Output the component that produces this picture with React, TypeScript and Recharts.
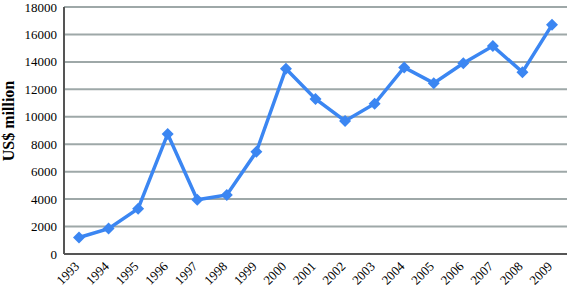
import React from 'react';
import { LineChart, Line, XAxis, YAxis, CartesianGrid } from 'recharts';

const years = ['1993','1994','1995','1996','1997','1998','1999','2000','2001','2002','2003','2004','2005','2006','2007','2008','2009'];
const values = [1200, 1850, 3300, 8750, 3950, 4300, 7450, 13500, 11300, 9700, 10950, 13600, 12450, 13900, 15150, 13250, 16700];
const yTicks = [0, 2000, 4000, 6000, 8000, 10000, 12000, 14000, 16000, 18000];

const data = years.map((y, i) => ({ year: y, value: values[i] }));

const COLOR = '#3b86f2';
const FONT = '"Liberation Serif", "Times New Roman", serif';

const Diamond = (props: any) => {
  const { cx, cy } = props;
  if (cx == null || cy == null) return null;
  const r = 6;
  return <path d={`M${cx},${cy - r} L${cx + r},${cy} L${cx},${cy + r} L${cx - r},${cy} Z`} fill={COLOR} stroke="none" />;
};

const XTick = (props: any) => {
  const { x, y, payload } = props;
  return (
    <text transform={`translate(${x - 2},${y + 10}) rotate(-45)`} textAnchor="end" dominantBaseline="central" fontFamily={FONT} fontSize={13} fill="#000">
      {payload.value}
    </text>
  );
};

const YTick = (props: any) => {
  const { x, y, payload } = props;
  return (
    <text x={x} y={y} textAnchor="end" dominantBaseline="central" fontFamily={FONT} fontSize={13} fill="#000">
      {payload.value}
    </text>
  );
};

export default function App() {
  return (
    <div style={{ width: 568, height: 290 }}>
      <style>{`body{margin:0;background:#fff}`}</style>
      <LineChart width={568} height={290} data={data} margin={{ top: 7, right: 1, bottom: 0, left: 0 }}>
        <CartesianGrid vertical={false} stroke="#9ea8a8" strokeWidth={2} />
        <XAxis
          dataKey="year"
          padding={{ left: 15, right: 15 }}
          height={36}
          tickLine={false}
          tickSize={0}
          tickMargin={0}
          axisLine={{ stroke: '#555', strokeWidth: 2 }}
          interval={0}
          tick={<XTick />}
        />
        <YAxis
          width={64}
          domain={[0, 18000]}
          ticks={yTicks}
          interval={0}
          tickLine={false}
          tickSize={0}
          tickMargin={7}
          axisLine={{ stroke: '#555', strokeWidth: 2 }}
          tick={<YTick />}
          label={{
            content: () => (
              <text transform="translate(14,121) rotate(-90)" textAnchor="middle" fontFamily={FONT} fontSize={16} fontWeight="bold" fill="#000">
                US$ million
              </text>
            ),
          }}
        />
        <Line type="linear" dataKey="value" stroke={COLOR} strokeWidth={3.5} dot={<Diamond />} activeDot={false} isAnimationActive={false} />
      </LineChart>
    </div>
  );
}
